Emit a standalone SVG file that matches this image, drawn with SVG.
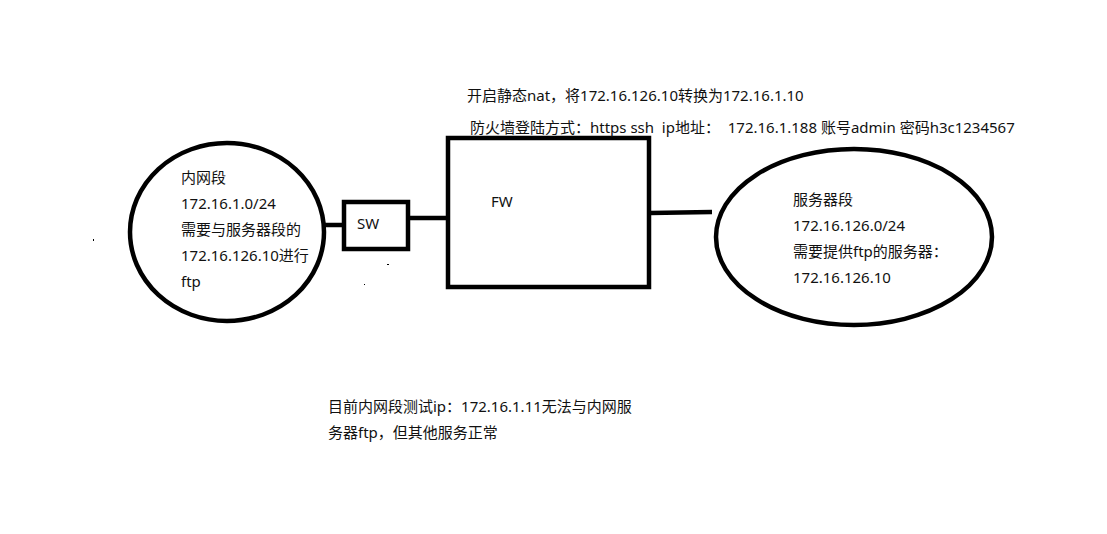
<svg xmlns="http://www.w3.org/2000/svg" width="1107" height="534" viewBox="0 0 1107 534">
<style>
.s{fill:none;stroke:#000;stroke-width:4.5}
.t{font-family:"Noto Sans","Noto Sans CJK SC",sans-serif;font-size:15px;fill:#111}
.c{stroke:#000;stroke-width:4.5;fill:none}
</style>
<rect width="1107" height="534" fill="#fff"/>
<g id="connectors">
<line class="c" x1="324" y1="225" x2="344" y2="225"/>
<line class="c" x1="408" y1="218" x2="448" y2="218"/>
<line class="c" x1="650" y1="213" x2="712" y2="212"/>
</g>
<g id="lan">
<ellipse class="s" cx="227" cy="232" rx="97" ry="89"/>
<text class="t" x="181" y="183">内网段</text>
<text class="t" x="181" y="209">172.16.1.0/24</text>
<text class="t" x="181" y="235">需要与服务器段的</text>
<text class="t" x="181" y="261">172.16.126.10进行</text>
<text class="t" x="181" y="287">ftp</text>
</g>
<g id="sw">
<rect class="s" x="344" y="202" width="64" height="47"/>
<text class="t" x="357" y="229">SW</text>
</g>
<g id="fw">
<rect class="s" x="448" y="138" width="201" height="149"/>
<text class="t" x="491" y="207">FW</text>
</g>
<g id="server">
<ellipse class="s" cx="854" cy="237" rx="138" ry="88"/>
<text class="t" x="793" y="205">服务器段</text>
<text class="t" x="793" y="231">172.16.126.0/24</text>
<text class="t" x="793" y="257">需要提供ftp的服务器：</text>
<text class="t" x="793" y="283">172.16.126.10</text>
</g>
<g id="notes">
<text class="t" x="467" y="101">开启静态nat，将172.16.126.10转换为172.16.1.10</text>
<text class="t" x="470" y="133" xml:space="preserve" style="white-space:pre">防火墙登陆方式：https ssh  ip地址：  172.16.1.188 账号admin 密码h3c1234567</text>
<text class="t" x="328" y="412">目前内网段测试ip：172.16.1.11无法与内网服</text>
<text class="t" x="328" y="438">务器ftp，但其他服务正常</text>
</g>
<g id="specks" fill="#000">
<rect x="93" y="239" width="1" height="2"/>
<rect x="387" y="264" width="2" height="1"/>
<rect x="364" y="284" width="1" height="1"/>
</g>
</svg>
